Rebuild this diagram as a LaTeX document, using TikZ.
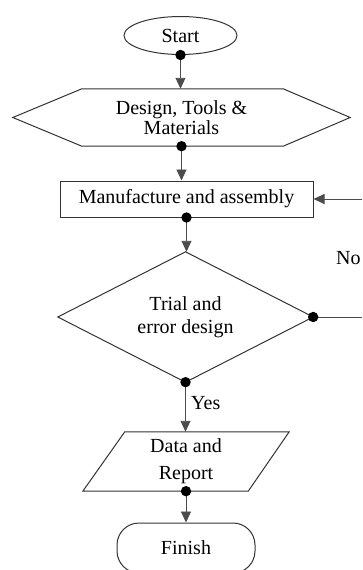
\documentclass[tikz,border=0pt]{standalone}
\usepackage{fontspec}
\setmainfont{Liberation Serif}
\usetikzlibrary{arrows.meta,calc,shapes.geometric}
\begin{document}
\begin{tikzpicture}[x=1pt,y=-1pt,
  outline/.style={draw=black!80, line width=1pt},
  holder/.style={inner sep=0pt, align=center, font=\fontsize{20}{20}\selectfont},
  flow/.style={draw=black!70, line width=0.9pt, -{Triangle[length=11pt,width=10pt]}},
  joint/.style={fill=black},
  ]
\useasboundingbox (0,0) rectangle (362,570);
\clip (0,0) rectangle (362,570);

% terminals, process and decision nodes
\node[holder, ellipse, outline, minimum width=113pt, minimum height=38pt] (start) at (180.5,35.5) {Start};

\node[holder, minimum width=337pt, minimum height=57pt] (hex) at (181.5,117.5) {Design, Tools \&\\Materials};
\draw[outline] ($(hex.north west)+(69,0)$) -- ($(hex.north east)+(-67,0)$) -- (hex.east)
  -- ($(hex.south east)+(-67,0)$) -- ($(hex.south west)+(69,0)$) -- (hex.west) -- cycle;

\node[holder, outline, minimum width=253pt, minimum height=36pt] (make) at (186.5,199) {Manufacture and assembly};

\node[holder, minimum width=255pt, minimum height=130pt, font=\fontsize{20}{23}\selectfont] (trial) at (185.5,317) {Trial and\\error design};
\draw[outline] (trial.north) -- (trial.east) -- (trial.south) -- (trial.west) -- cycle;

\node[holder, minimum width=206pt, minimum height=59pt, font=\fontsize{20}{27}\selectfont] (data) at (186,461.5) {Data and\\Report};
\draw[outline] ($(data.north west)+(42,0)$) -- (data.north east)
  -- ($(data.south east)+(-41,0)$) -- (data.south west) -- cycle;

\node[holder, outline, rounded corners=22pt, minimum width=138pt, minimum height=50pt] (finish) at (186,548) {Finish};

% connectors
\draw[flow] (start.south) -- (start.south |- hex.north);
\draw[flow] (hex.south) -- (hex.south |- make.north);
\draw[flow] (make.south) -- (make.south |- trial.north);
\draw[flow] (trial.south) -- (trial.south |- data.north);
\draw[flow] (data.south) -- (data.south |- finish.north);
\coordinate (loopR) at (378,317);
\draw[flow] (trial.east) -- (loopR) |- (make.east);

\foreach \n in {start, hex, make, trial, data}
  \fill[joint] (\n.south) circle (5.2pt);
\fill[joint] (trial.east) circle (5.2pt);

% branch labels
\node[holder, anchor=west] (yes) at (191,403) {Yes};
\node[holder, anchor=west] (no) at (336,258) {No};
\end{tikzpicture}
\end{document}
